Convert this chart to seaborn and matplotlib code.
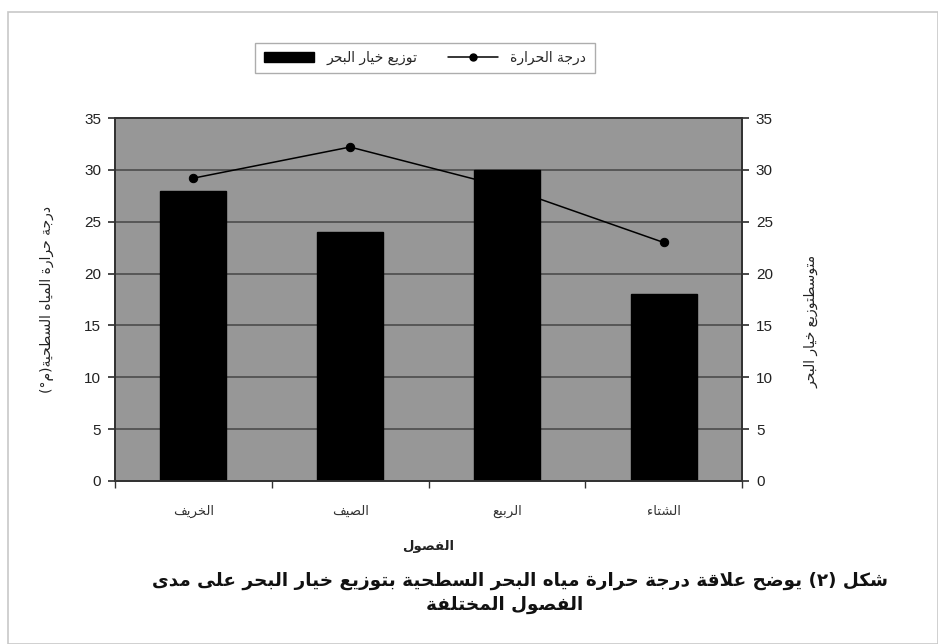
import matplotlib
matplotlib.use("Agg")
import matplotlib.pyplot as plt
import seaborn as sns
import pandas as pd
from matplotlib.patches import Patch, Rectangle
from matplotlib.lines import Line2D

# ---------------- data ----------------
seasons = ["الخريف", "الصيف", "الربيع", "الشتاء"]
cucumber_dist = [28, 24, 30, 18]
temperature = [29.2, 32.2, 28.3, 23.0]
y_ticks = [0, 5, 10, 15, 20, 25, 30, 35]

bar_label = "توزيع خيار البحر"
line_label = "درجة الحرارة"
left_ylabel = "درجة حرارة المياه السطحية(م°)"
right_ylabel = "متوسطتوزيع خيار البحر"
x_label = "الفصول"
caption1 = "شكل (٢) يوضح علاقة درجة حرارة مياه البحر السطحية بتوزيع خيار البحر على مدى"
caption2 = "الفصول المختلفة"

# ------------- minimal Arabic shaping (presentation forms) -------------
_DUAL = {0x626: 0xFE89, 0x628: 0xFE8F, 0x62A: 0xFE95, 0x62B: 0xFE99, 0x62C: 0xFE9D,
         0x62D: 0xFEA1, 0x62E: 0xFEA5, 0x633: 0xFEB1, 0x634: 0xFEB5, 0x635: 0xFEB9,
         0x636: 0xFEBD, 0x637: 0xFEC1, 0x638: 0xFEC5, 0x639: 0xFEC9, 0x63A: 0xFECD,
         0x641: 0xFED1, 0x642: 0xFED5, 0x643: 0xFED9, 0x644: 0xFEDD, 0x645: 0xFEE1,
         0x646: 0xFEE5, 0x647: 0xFEE9, 0x64A: 0xFEF1}
_RIGHT = {0x622: 0xFE81, 0x623: 0xFE83, 0x624: 0xFE85, 0x625: 0xFE87, 0x627: 0xFE8D,
          0x629: 0xFE93, 0x62F: 0xFEA9, 0x630: 0xFEAB, 0x631: 0xFEAD, 0x632: 0xFEAF,
          0x648: 0xFEED, 0x649: 0xFEEF}
_LAMALEF = {0x622: 0xFEF5, 0x623: 0xFEF7, 0x625: 0xFEF9, 0x627: 0xFEFB}


def _is_ar(c):
    return ord(c) in _DUAL or ord(c) in _RIGHT


def shape(text):
    chars = list(text)
    out = []
    i = 0
    n = len(chars)
    while i < n:
        c = chars[i]
        o = ord(c)
        prev = chars[i - 1] if i > 0 else None
        joins_prev = prev is not None and ord(prev) in _DUAL
        if o == 0x644 and i + 1 < n and ord(chars[i + 1]) in _LAMALEF:
            base = _LAMALEF[ord(chars[i + 1])]
            out.append(chr(base + (1 if joins_prev else 0)))
            i += 2
            continue
        if o in _DUAL or o in _RIGHT:
            nxt = chars[i + 1] if i + 1 < n else None
            joins_next = o in _DUAL and nxt is not None and _is_ar(nxt)
            if o in _DUAL:
                base = _DUAL[o]
                if joins_prev and joins_next:
                    f = base + 3
                elif joins_prev:
                    f = base + 1
                elif joins_next:
                    f = base + 2
                else:
                    f = base
            else:
                base = _RIGHT[o]
                f = base + 1 if joins_prev else base
            out.append(chr(f))
        else:
            out.append(c)
        i += 1
    vis = "".join(reversed(out))
    mirror = {"(": ")", ")": "("}
    return "".join(mirror.get(ch, ch) for ch in vis)


# ---------------- figure ----------------
sns.set_theme(style="white")
plt.rcParams["font.family"] = ["DejaVu Sans"]

W, H = 938, 644
fig = plt.figure(figsize=(W / 100, H / 100), dpi=100)
fig.patch.set_facecolor("white")

# outer chart frame
fig.patches.append(Rectangle((8 / W, 0), 1 - 8 / W, 1 - 12 / H, transform=fig.transFigure,
                             fill=False, edgecolor="#c8c8c8", linewidth=1.2))

ax = fig.add_axes([115 / W, 1 - 481 / H, (742 - 115) / W, (481 - 118) / H])
ax.set_facecolor("#979797")

df = pd.DataFrame({"season": [shape(s) for s in seasons],
                   "dist": cucumber_dist, "temp": temperature})
order = list(df["season"])

sns.barplot(data=df, x="season", y="dist", order=order, color="black",
            width=0.42, saturation=1, ax=ax, zorder=3, edgecolor="black")

num_font = "Liberation Sans"

ax.set_ylim(0, 35)
ax.set_xlim(-0.5, 3.5)
ax.set_yticks(y_ticks)
ax.set_yticklabels([str(v) for v in y_ticks], fontfamily=num_font)
ax.yaxis.grid(True, color="#454545", linewidth=1.1, zorder=0)
ax.set_axisbelow(True)
for s in ax.spines.values():
    s.set_color("#333333")
    s.set_linewidth(1.3)

ax.tick_params(axis="y", direction="out", length=5, color="#333333", labelsize=11,
               labelcolor="#222222", left=True, pad=5)
ax.set_xticks(range(len(order)))
ax.set_xticklabels(order, fontsize=9.5, color="#333333")
ax.tick_params(axis="x", length=0, pad=17)
ax.set_xticks([-0.5, 0.5, 1.5, 2.5, 3.5], minor=True)
ax.tick_params(axis="x", which="minor", direction="out", length=5, color="#333333", bottom=True)

ax.set_xlabel(shape(x_label), fontsize=9.5, fontweight="bold", labelpad=16, color="#222222")
ax.set_ylabel(shape(left_ylabel), fontsize=10, color="#222222", labelpad=22)

ax2 = ax.twinx()
ax2.set_ylim(0, 35)
ax2.set_yticks(y_ticks)
ax2.set_yticklabels([str(v) for v in y_ticks], fontfamily=num_font)
ax2.tick_params(axis="y", direction="out", length=5, color="#333333", labelsize=11,
                labelcolor="#222222", right=True, pad=5)
for s in ax2.spines.values():
    s.set_color("#333333")
    s.set_linewidth(1.3)
ax2.set_ylabel(shape(right_ylabel), fontsize=10, color="#222222", rotation=90, labelpad=22)
ax2.yaxis.set_label_coords(1.1, 0.44)

sns.lineplot(x=list(range(len(order))), y=temperature, ax=ax2, color="black",
             linewidth=1.1, marker="o", markersize=6, markeredgecolor="black", zorder=5)

# legend
handles = [Patch(facecolor="black", edgecolor="black"),
           Line2D([0], [0], color="black", linewidth=1.1, marker="o", markersize=5)]
labels = [shape(bar_label), shape(line_label)]
fig.legend(handles, labels, loc="center", bbox_to_anchor=(425 / W, 1 - 58 / H), ncol=2,
           frameon=True, fancybox=False, edgecolor="#999999", fontsize=10,
           handlelength=3.6, handleheight=0.8, columnspacing=2.2, borderpad=0.6,
           handletextpad=0.9)

fig.text(520 / W, 1 - 581 / H, shape(caption1), ha="center", va="center",
         fontsize=13.2, fontweight="bold", color="#111111")
fig.text(505 / W, 1 - 605 / H, shape(caption2), ha="center", va="center",
         fontsize=13.2, fontweight="bold", color="#111111")

fig.savefig("out.png", dpi=100)
